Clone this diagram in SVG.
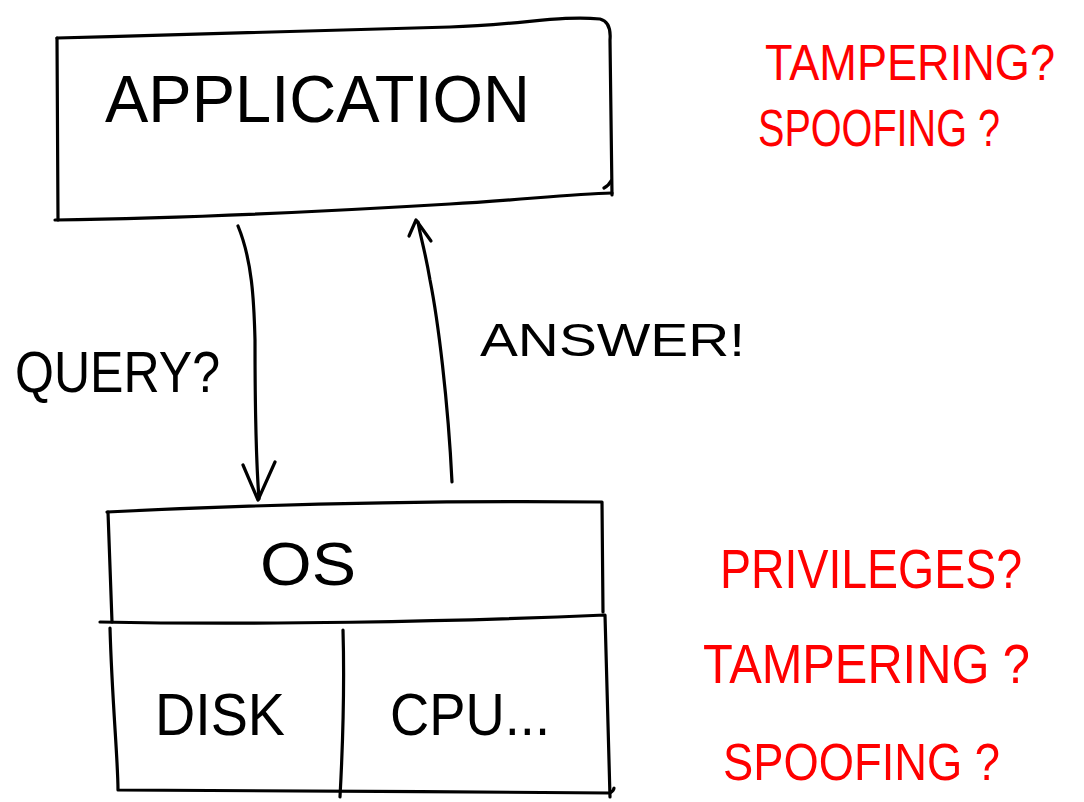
<svg xmlns="http://www.w3.org/2000/svg" width="1084" height="802" viewBox="0 0 1084 802">
<style>
.ln{fill:none;stroke:#000;stroke-width:3.2;stroke-linecap:round;stroke-linejoin:round}
.bt{font-family:"Liberation Sans",Arial,sans-serif;fill:#000}
.rt{font-family:"Liberation Sans",Arial,sans-serif;fill:#f00}
</style>
<rect width="1084" height="802" fill="#fff"/>
<g id="application">
<path class="ln" d="M57,38 C200,34 350,30 450,27 C520,25 560,15 600,19 C608,21 611,28 610,40 L612,195"/>
<path class="ln" d="M57,38 L58,220"/>
<path class="ln" d="M55,220 C200,218 350,210 450,204 C520,200 570,194 612,193 M604,188 C608,186 610,183 611,181"/>
<text class="bt" x="105" y="122" font-size="66" textLength="425" lengthAdjust="spacingAndGlyphs">APPLICATION</text>
</g>
<g id="os">
<path class="ln" d="M107,512 C250,505 400,500 602,502 L603,612"/>
<path class="ln" d="M108,512 L112,622"/>
<path class="ln" d="M100,622 C250,625 450,622 605,615 L610,797"/>
<text class="bt" x="260" y="585" font-size="62" textLength="96" lengthAdjust="spacingAndGlyphs">OS</text>
</g>
<g id="disk">
<path class="ln" d="M110,628 C112,700 118,760 118,790 C250,790 450,792 610,793 C613,791 614,790 614,788"/>
<path class="ln" d="M343,630 C345,700 342,760 340,797"/>
<text class="bt" x="155" y="735" font-size="60" textLength="130" lengthAdjust="spacingAndGlyphs">DISK</text>
</g>
<g id="cpu">
<text class="bt" x="390" y="735" font-size="60" textLength="160" lengthAdjust="spacingAndGlyphs">CPU...</text>
</g>
<g id="connectors">
<path class="ln" d="M238,226 C252,260 254,300 255,340 C255,400 256,460 259,499"/>
<path class="ln" d="M243,465 L258,500 L275,462"/>
<path class="ln" d="M452,482 C448,400 438,320 430,280 C425,250 420,235 418,222"/>
<path class="ln" d="M409,236 L416,220 L431,241"/>
</g>
<g id="labels">
<text class="bt" x="15" y="392" font-size="58" textLength="205" lengthAdjust="spacingAndGlyphs">QUERY?</text>
<text class="bt" x="480" y="356" font-size="46" textLength="265" lengthAdjust="spacingAndGlyphs">ANSWER!</text>
</g>
<g id="notes-top">
<text class="rt" transform="translate(765,80) scale(1,1.12)" x="0" y="0" font-size="45" textLength="290" lengthAdjust="spacingAndGlyphs">TAMPERING?</text>
<text class="rt" x="758" y="146" font-size="52" textLength="242" lengthAdjust="spacingAndGlyphs">SPOOFING ?</text>
</g>
<g id="notes-bottom">
<text class="rt" x="720" y="588" font-size="56" textLength="302" lengthAdjust="spacingAndGlyphs">PRIVILEGES?</text>
<text class="rt" x="703" y="683" font-size="56" textLength="327" lengthAdjust="spacingAndGlyphs">TAMPERING ?</text>
<text class="rt" x="723" y="780" font-size="52" textLength="277" lengthAdjust="spacingAndGlyphs">SPOOFING ?</text>
</g>
</svg>
